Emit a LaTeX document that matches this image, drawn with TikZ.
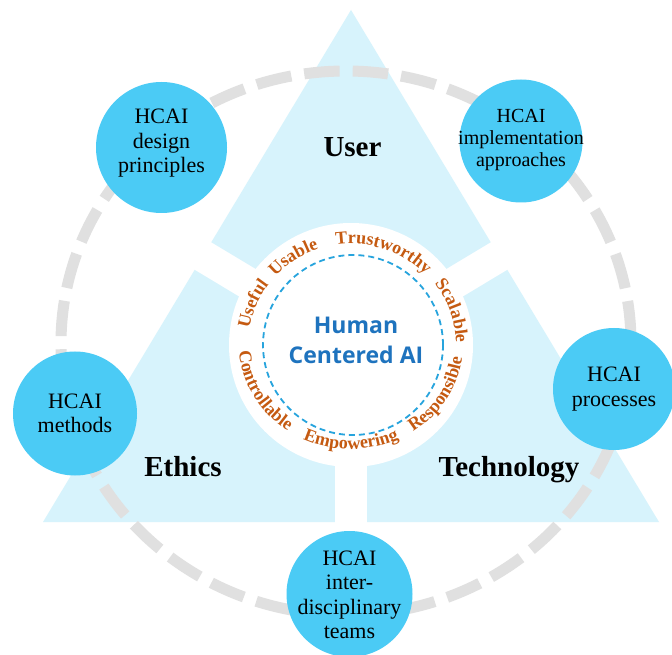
\documentclass[tikz,border=0pt]{standalone}
\usepackage{fontspec}
\setmainfont{Liberation Serif}
\newfontfamily\hcaisans{Open Sans}
\usetikzlibrary{decorations.text}
\definecolor{trifill}{HTML}{D7F3FC}
\definecolor{bubble}{HTML}{4BCBF5}
\definecolor{ringgray}{HTML}{E0E0E0}
\definecolor{dashblue}{HTML}{27A4DD}
\definecolor{hcaiblue}{HTML}{1E73BE}
\definecolor{wordorange}{HTML}{C55A11}
\begin{document}
\begin{tikzpicture}[x=1pt,y=1pt,
  bubblenode/.style={circle, fill=bubble, inner sep=0pt, minimum size=#1},
  bubbletext/.style={align=center, font=\fontsize{22}{24.5}\selectfont, text=black, inner sep=0pt},
  dimlabel/.style={font=\fontsize{29}{29}\selectfont\bfseries, anchor=base, text=black},
  ringline/.style={draw=ringgray, line width=11pt, dash pattern=on 35.5pt off 13.1pt, dash phase=42pt},
  band/.style={draw=white, line width=32pt},
  wordstyle/.style={decorate, decoration={text along path, text align=center, text color=wordorange,
      text={|\fontsize{18}{18}\selectfont\bfseries|#1}}},
]
\useasboundingbox (0,0) rectangle (672,654);
\fill[white] (0,0) rectangle (672,654);

% triangle with white bands
\fill[trifill] (43,132) -- (351,644) -- (659,132) -- cycle;
\coordinate (ctr) at (351,309);
\draw[band] (ctr) -- ++(149:200pt);
\draw[band] (ctr) -- ++(31:200pt);
\draw[band] (ctr) -- ++(270:200pt);

% central disc
\node[circle, fill=white, minimum size=244pt, inner sep=0pt] (hub) at (ctr) {};
\node[circle, draw=dashblue, line width=1.8pt, dash pattern=on 6pt off 4pt, minimum size=180pt, inner sep=0pt] (core) at (353,309) {};
\node[font=\hcaisans\bfseries\fontsize{23}{30}\selectfont, text=hcaiblue, align=center, inner sep=0pt] (hcai) at (356,313.5) {Human\\Centered AI};

% curved words (top: clockwise, bottom: counter-clockwise)
\path[wordstyle={Useful}] (ctr) ++(197:103pt and 101pt) arc[start angle=197, end angle=117, x radius=103pt, y radius=101pt];
\path[wordstyle={Usable}] (ctr) ++(163:103pt and 101pt) arc[start angle=163, end angle=83, x radius=103pt, y radius=101pt];
\path[wordstyle={Trustworthy}] (ctr) ++(116:103pt and 101pt) arc[start angle=116, end angle=26, x radius=103pt, y radius=101pt];
\path[wordstyle={Scalable}] (ctr) ++(59:105pt and 101pt) arc[start angle=59, end angle=-21, x radius=105pt, y radius=101pt];
\path[wordstyle={Controllable}] (ctr) ++(164:112pt and 104pt) arc[start angle=164, end angle=254, x radius=112pt, y radius=104pt];
\path[wordstyle={Empowering}] (ctr) ++(225:112pt and 104pt) arc[start angle=225, end angle=315, x radius=112pt, y radius=104pt];
\path[wordstyle={Responsible}] (ctr) ++(284:112pt and 104pt) arc[start angle=284, end angle=374, x radius=112pt, y radius=104pt];

% dashed gray ring
\draw[ringline] (346,311) ellipse [x radius=285pt, y radius=272pt];

% dimension labels
\node[dimlabel] (user) at (352.5,497) {User};
\node[dimlabel] (ethics) at (183,178) {Ethics};
\node[dimlabel] (tech) at (509,178) {Technology};

% bubbles
\node[bubblenode=131pt] (design) at (161.5,506.5) {};
\node[bubbletext] (tdesign) at ([yshift=4pt]design.center) {HCAI\\design\\principles};
\node[bubblenode=123pt] (impl) at (521,513) {};
\node[bubbletext, font=\fontsize{20}{22}\selectfont] (timpl) at ([yshift=1pt]impl.center) {HCAI\\implementation\\approaches};
\node[bubblenode=124pt] (methods) at (75,240.5) {};
\node[bubbletext] (tmethods) at (methods.center) {HCAI\\methods};
\node[bubblenode=122pt] (proc) at (614,265) {};
\node[bubbletext] (tproc) at (proc.center) {HCAI\\processes};
\node[bubblenode=126pt] (teams) at (349.5,60) {};
\node[bubbletext] (tteams) at ([yshift=-1pt]teams.center) {HCAI\\inter-\\disciplinary\\teams};
\end{tikzpicture}
\end{document}
